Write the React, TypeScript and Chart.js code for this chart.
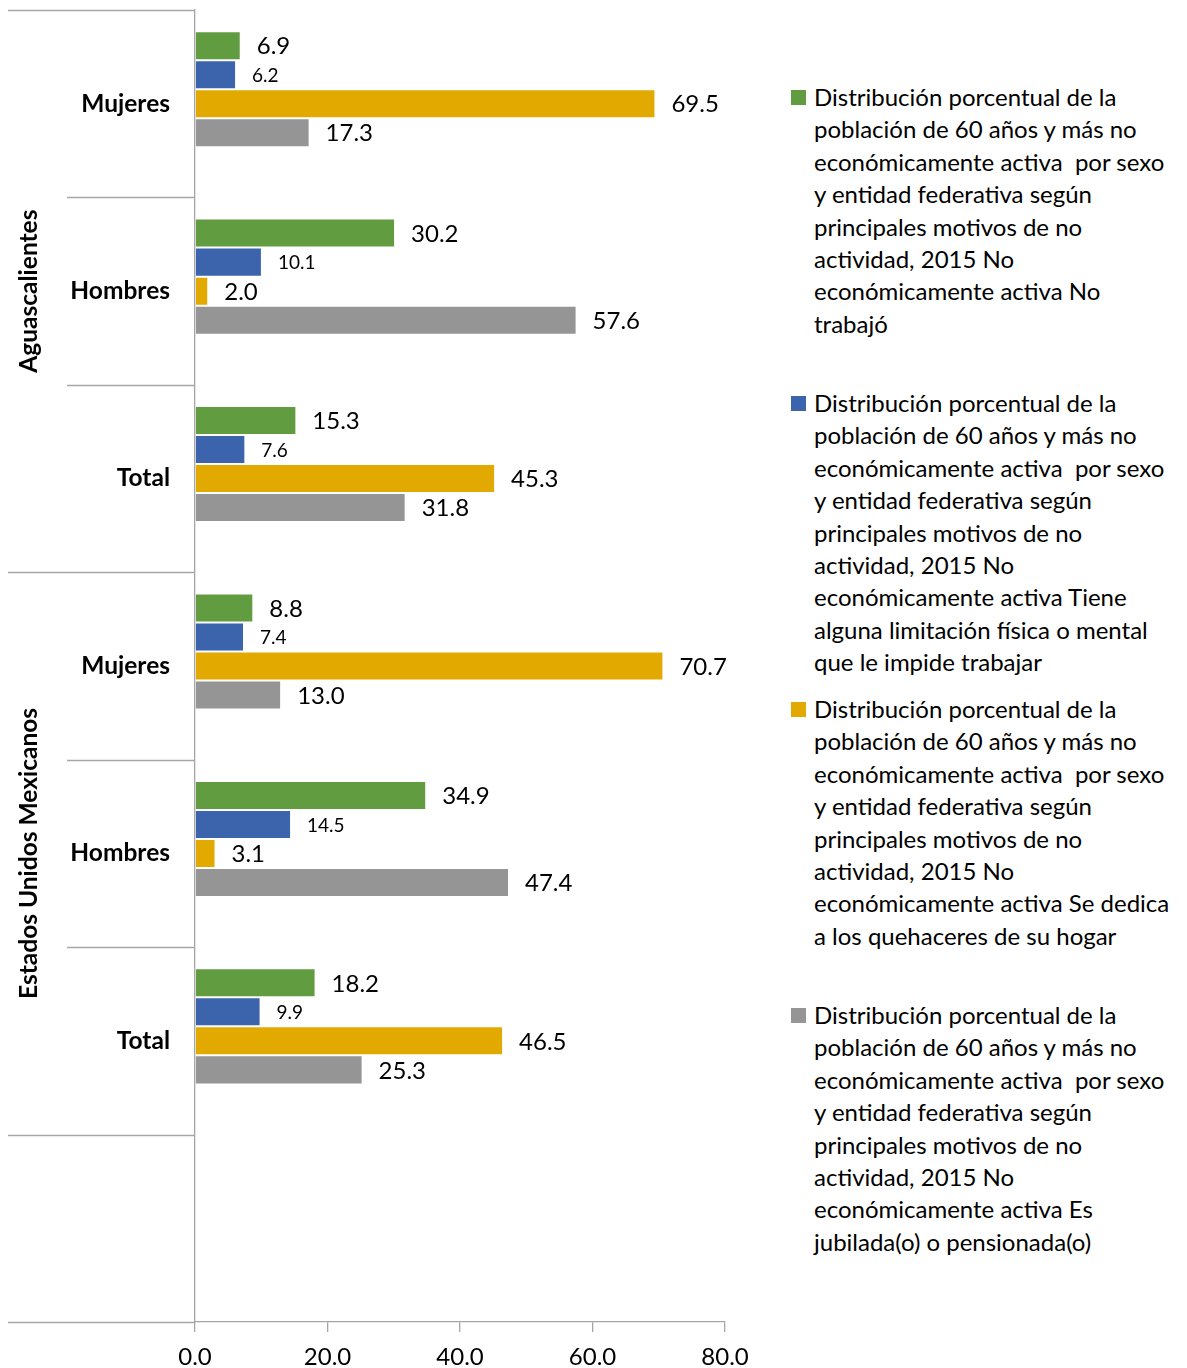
import React, { useEffect, useRef } from 'react';
import { Chart, registerables } from 'chart.js';

Chart.register(...registerables);

const categories = ['Mujeres', 'Hombres', 'Total', 'Mujeres', 'Hombres', 'Total', ''];
const groups = ['Aguascalientes', 'Estados Unidos Mexicanos'];
const noTrabajo = [6.9, 30.2, 15.3, 8.8, 34.9, 18.2, null];
const limitacion = [6.2, 10.1, 7.6, 7.4, 14.5, 9.9, null];
const hogar = [69.5, 2.0, 45.3, 70.7, 3.1, 46.5, null];
const jubilado = [17.3, 57.6, 31.8, 13.0, 47.4, 25.3, null];
const emptySeries = [null, null, null, null, null, null, null];
const xTicks = [0, 20, 40, 60, 80];

const commonLines = [
  'Distribución porcentual de la',
  'población de 60 años y más no',
  'económicamente activa  por sexo',
  'y entidad federativa según',
  'principales motivos de no',
  'actividad, 2015 No',
];
const legend1 = [...commonLines, 'económicamente activa No', 'trabajó'];
const legend2 = [...commonLines, 'económicamente activa Tiene', 'alguna limitación física o mental', 'que le impide trabajar'];
const legend3 = [...commonLines, 'económicamente activa Se dedica', 'a los quehaceres de su hogar'];
const legend4 = [...commonLines, 'económicamente activa Es', 'jubilada(o) o pensionada(o)'];

const colors = ['#629C41', '#3C64AC', '#E2AA00', '#959595'];
const FONT = 'Lato, "Open Sans", sans-serif';

const seriesValues = [noTrabajo, limitacion, hogar, jubilado];
const seriesLegends = [legend1, legend2, legend3, legend4];

const labelPlugin = {
  id: 'barLabels',
  afterDatasetsDraw(chart: any) {
    const ctx = chart.ctx;
    ctx.save();
    ctx.fillStyle = '#000';
    ctx.textBaseline = 'middle';
    ctx.textAlign = 'left';
    for (let i = 0; i < 4; i++) {
      const meta = chart.getDatasetMeta(i);
      const data = chart.data.datasets[i].data;
      ctx.font = (i === 1 ? '19px ' : '24px ') + FONT;
      meta.data.forEach((bar: any, j: number) => {
        const v = data[j];
        if (v === null || v === undefined) return;
        ctx.fillText(Number(v).toFixed(1), bar.x + 16, bar.y + 1);
      });
    }
    ctx.restore();
  },
};

const axisPlugin = {
  id: 'axisDecor',
  afterDraw(chart: any) {
    const ctx = chart.ctx;
    const y = chart.scales.y;
    const left = chart.chartArea.left;
    ctx.save();
    ctx.strokeStyle = '#A6A6A6';
    ctx.lineWidth = 1.3;
    for (let k = 0; k <= categories.length; k++) {
      const py = Math.round(y.getPixelForValue(k - 0.5)) + 0.5;
      const long = k === 0 || k === 3 || k === 6 || k === 7;
      ctx.beginPath();
      ctx.moveTo(long ? 8 : 67, py);
      ctx.lineTo(left, py);
      ctx.stroke();
    }
    ctx.fillStyle = '#000';
    ctx.font = 'bold 24.5px ' + FONT;
    ctx.textAlign = 'center';
    ctx.textBaseline = 'middle';
    groups.forEach((g, gi) => {
      const y0 = y.getPixelForValue(gi * 3 - 0.5);
      const y1 = y.getPixelForValue(gi * 3 + 2.5);
      ctx.save();
      ctx.translate(29, (y0 + y1) / 2);
      ctx.rotate(-Math.PI / 2);
      ctx.fillText(g, 0, 0);
      ctx.restore();
    });
    ctx.restore();
  },
};

export default function App() {
  const ref = useRef<HTMLCanvasElement>(null);
  useEffect(() => {
    document.body.style.margin = '0';
    const datasets: any[] = seriesValues.map((vals, i) => ({
      label: seriesLegends[i].join(' '),
      data: vals,
      backgroundColor: colors[i],
      borderColor: 'rgba(255,255,255,0.6)',
      borderWidth: 1,
      categoryPercentage: 0.774,
      barPercentage: 1,
    }));
    datasets.push({
      label: '',
      data: emptySeries,
      backgroundColor: 'transparent',
      categoryPercentage: 0.774,
      barPercentage: 1,
    });
    const chart = new Chart(ref.current as HTMLCanvasElement, {
      type: 'bar',
      data: { labels: categories, datasets },
      options: {
        indexAxis: 'y',
        responsive: false,
        animation: false,
        layout: { padding: { top: 10, right: 35, left: 0, bottom: 0 } },
        plugins: { legend: { display: false }, tooltip: { enabled: false } },
        scales: {
          x: {
            min: 0,
            max: 80,
            afterBuildTicks: (s: any) => {
              s.ticks = xTicks.map((v) => ({ value: v }));
            },
            afterFit: (s: any) => {
              s.height = 46;
              s.paddingLeft = 0;
              s.paddingRight = 0;
            },
            grid: { display: true, drawOnChartArea: false, drawTicks: true, tickLength: 10, color: '#A6A6A6', lineWidth: 1.3 },
            border: { display: true, color: '#A6A6A6', width: 1.3 },
            ticks: {
              color: '#000',
              font: { family: FONT, size: 24 },
              padding: 11,
              callback: (v: any) => Number(v).toFixed(1),
            },
          },
          y: {
            afterFit: (s: any) => {
              s.width = 195;
              s.paddingTop = 0;
              s.paddingBottom = 0;
            },
            grid: { display: false, drawTicks: false },
            border: { display: true, color: '#A6A6A6', width: 1.3 },
            ticks: {
              color: '#000',
              font: { family: FONT, size: 24.5, weight: 'bold' },
              padding: 25,
            },
          },
        },
      },
      plugins: [labelPlugin, axisPlugin],
    });
    return () => chart.destroy();
  }, []);

  return (
    <div style={{ position: 'absolute', left: 0, top: 0, width: 1187, height: 1368, background: '#fff' }}>
      <canvas ref={ref} width={760} height={1368} style={{ position: 'absolute', left: 0, top: 0 }} />
      <div style={{ position: 'absolute', left: 791, top: 81 }}>
        {seriesLegends.map((lines, i) => (
          <div key={i} style={{ height: 306, display: 'flex', alignItems: 'flex-start' }}>
            <div style={{ width: 15, height: 15, background: colors[i], marginTop: 9, flex: 'none' }} />
            <div
              style={{
                marginLeft: 8,
                fontFamily: FONT,
                fontSize: 24,
                lineHeight: '32.4px',
                color: '#000',
                whiteSpace: 'pre',
              }}
            >
              {lines.map((l, k) => (
                <div key={k}>{l}</div>
              ))}
            </div>
          </div>
        ))}
      </div>
    </div>
  );
}
